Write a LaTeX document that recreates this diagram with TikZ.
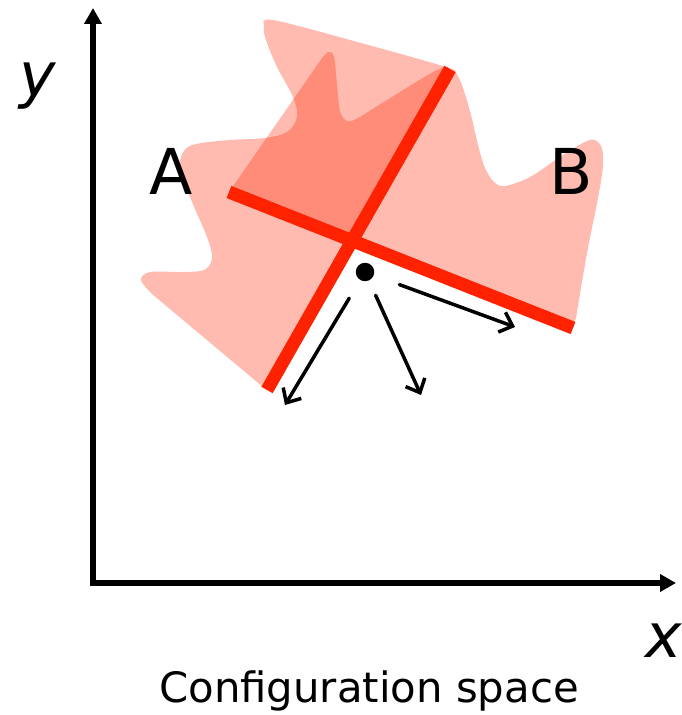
\documentclass[tikz,border=0pt]{standalone}
\usepackage{fontspec}
\setmainfont{DejaVu Sans}
\usetikzlibrary{arrows.meta}

\definecolor{cred}{RGB}{255,34,0}

\tikzset{
    cobst/.style={fill=cred, fill opacity=0.31},
    wall/.style={draw=cred, line width=7.4pt},
    axis/.style={line width=3.3pt, -{Triangle[length=9pt,width=9.5pt]}},
    vec/.style={line width=2pt, line cap=round,
        -{Straight Barb[length=6.5pt,width=12pt,line width=2pt]}},
    lbl/.style={font=\fontsize{36}{40}\selectfont, anchor=base}
}

\begin{document}
\begin{tikzpicture}[x=0.02cm,y=-0.02cm]
\useasboundingbox (0,0) rectangle (681,715);

\coordinate (O) at (93,583);
\coordinate (yend) at (93,8);
\coordinate (xend) at (676,583);

\coordinate (wL) at (229,192);
\coordinate (wR) at (573,328);
\coordinate (wT) at (450,69);
\coordinate (wB) at (267,390);
\coordinate (X) at (350,240);

% obstacle regions
\fill[cobst] (wB) -- (263,387) -- (152,294) -- plot[smooth, tension=0.55] coordinates {
    (152,294) (141,280) (150,272) (180,272)
    (204,270) (212,258) (207,237) (190,197) (180,167) (184,151) (196,144)
    (230,140) (265,138) (287,132) (297,117) (293,97) (277,67) (266,40)
    (264,27) (273,20) (361,43) (446,67) (456,73) (463,88) (471,115)
    (478,145) (485,168) (494,182) (505,186) (530,177) (563,155) (590,140)
    (601,146) (603,165) (598,198) (587,253) (576,318)}
    -- (wR) -- (X) -- cycle;
\fill[cobst] (wL) -- (320,61) -- plot[smooth, tension=0.55] coordinates {
    (320,61) (328,52) (334,57) (337,85) (340,111) (347,121) (358,118)
    (387,100) (433,72) (448,67)} -- (X) -- cycle;

\draw[wall] (wL) -- (wR);
\draw[wall] (wT) -- (wB);

% axes
\draw[axis] ([yshift=-1.6pt]O) -- (yend);
\draw[axis] ([xshift=-1.6pt]O) -- (xend);

\node[lbl, font=\fontsize{35}{40}\selectfont\itshape] (ylab) at (38,97) {y};
\node[lbl, font=\fontsize{35}{40}\selectfont\itshape] (xlab) at (664,657) {x};
\node[lbl] (A) at (171,195) {A};
\node[lbl] (B) at (571,195) {B};
\node[anchor=base, font=\fontsize{23.8}{28}\selectfont] (cap) at (369,702)
    {Configuration space};

% point and directions
\node[circle, fill, inner sep=0pt, minimum size=0.37cm] (q) at (365,272) {};
\coordinate (d1) at (285,405);
\coordinate (d2) at (421,395);
\coordinate (d3) at (515,327);
\draw[vec, shorten <=0.42cm] (q) -- (d1);
\draw[vec, shorten <=0.32cm] (q) -- (d2);
\draw[vec, shorten <=0.54cm] (q) -- (d3);

\end{tikzpicture}
\end{document}
